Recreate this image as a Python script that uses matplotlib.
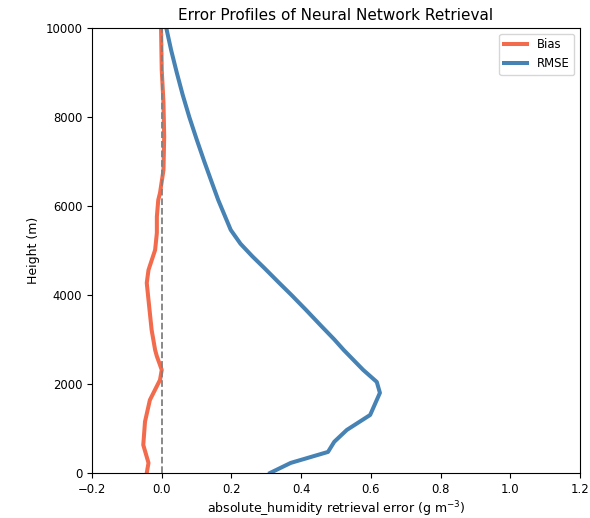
import numpy as np
import matplotlib.pyplot as plt

# retrieval error profiles (g m^-3) versus height (m)
rmse_height = [0, 225, 472, 700, 966, 1303, 1800, 2045, 2315, 2764, 3000,
               3300, 3663, 4000, 4270, 4600, 4868, 5150, 5461, 5760, 6135,
               6500, 7000, 7500, 8000, 8500, 9000, 9500, 10000]
rmse = [0.311, 0.370, 0.477, 0.495, 0.531, 0.598, 0.626, 0.617, 0.578, 0.522,
        0.495, 0.458, 0.414, 0.372, 0.337, 0.295, 0.260, 0.226, 0.198, 0.182,
        0.162, 0.145, 0.122, 0.100, 0.079, 0.060, 0.043, 0.027, 0.013]

bias_height = [0, 225, 629, 1153, 1640, 2090, 2315, 2427, 2621, 2764, 3213,
               3888, 4270, 4562, 5011, 5393, 5760, 6135, 6292, 6809, 7558,
               8315, 9056, 10000]
bias = [-0.043, -0.038, -0.053, -0.048, -0.034, -0.005, 0.0, -0.005, -0.014,
        -0.019, -0.029, -0.038, -0.043, -0.038, -0.019, -0.014, -0.014, -0.010,
        -0.005, 0.005, 0.007, 0.005, 0.0, -0.002]

plt.rcParams['font.size'] = 8.4

fig = plt.figure(figsize=(5.9, 5.18), dpi=100)
ax = fig.add_axes([0.156, 0.087, 0.827, 0.859])

ax.plot(bias, bias_height, color='#f26b4c', lw=2.9, label='Bias')
ax.plot(rmse, rmse_height, color='#4682b4', lw=2.9, label='RMSE')
ax.axvline(0, color='gray', ls='--', lw=1.3)

ax.set_xlim(-0.2, 1.2)
ax.set_ylim(0, 10000)
ax.set_xlabel('absolute_humidity retrieval error (g m$^{-3}$)', fontsize=9, labelpad=2.5)
ax.set_ylabel('Height (m)', fontsize=9)
ax.set_title('Error Profiles of Neural Network Retrieval', fontsize=11)
ax.legend(loc='upper right')

fig.savefig('out.png', dpi=100)
